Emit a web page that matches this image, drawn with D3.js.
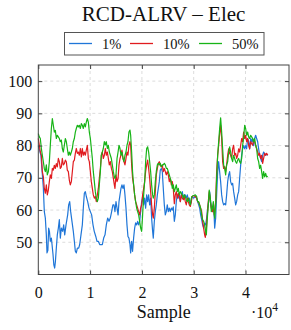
<!DOCTYPE html>
<html>
<head>
<meta charset="utf-8">
<script src="https://cdn.jsdelivr.net/npm/d3@7"></script>
<style>
body { margin: 0; background: #fff; }
text { font-family: "Liberation Serif", "DejaVu Serif", serif; fill: #111; }
</style>
</head>
<body>
<script>
// sample positions are in thousands of samples
var blueSample = [0, 0.5, 0.97, 1.16, 1.36, 1.55, 1.68, 1.85, 2.0, 2.15, 2.32, 2.52, 2.65, 2.84, 3.0, 3.16, 3.3, 3.48, 3.67, 3.87,
  4.06, 4.25, 4.45, 4.7, 4.9, 5.1, 5.35, 5.67, 5.86, 6.06, 6.25, 6.5, 6.76, 6.96, 7.15, 7.34, 7.54, 7.8, 7.99, 8.24,
  8.5, 8.69, 8.89, 9.08, 9.27, 9.53, 9.79, 10.05, 10.3, 10.56, 10.8, 11.1, 11.33, 11.59, 11.85, 12.1, 12.36, 12.62, 12.88, 13.13,
  13.39, 13.65, 13.9, 14.16, 14.4, 14.61, 14.8, 15.0, 15.2, 15.4, 15.58, 15.77, 15.96, 16.15, 16.35, 16.54, 16.73, 16.93, 17.12, 17.31,
  17.5, 17.7, 17.83, 18.02, 18.2, 18.4, 18.6, 18.79, 18.99, 19.18, 19.37, 19.57, 19.76, 19.95, 20.14, 20.34, 20.53, 20.72, 20.92, 21.11,
  21.3, 21.5, 21.69, 21.88, 22.07, 22.2, 22.4, 22.59, 22.78, 22.98, 23.17, 23.36, 23.55, 23.75, 23.94, 24.13, 24.33, 24.52, 24.71, 24.9,
  25.1, 25.29, 25.48, 25.68, 25.87, 26.06, 26.26, 26.45, 26.64, 26.84, 27.03, 27.22, 27.42, 27.61, 27.8, 28.0, 28.19, 28.38, 28.57, 28.77,
  28.96, 29.15, 29.35, 29.54, 29.67, 30.0, 30.31, 30.57, 30.76, 30.96, 31.15, 31.34, 31.54, 31.73, 31.92, 32.12, 32.31, 32.5, 32.69, 32.89,
  33.08, 33.27, 33.47, 33.66, 33.85, 34.05, 34.24, 34.43, 34.63, 34.82, 35.01, 35.2, 35.4, 35.59, 35.78, 35.98, 36.17, 36.36, 36.56, 36.75,
  36.94, 37.13, 37.33, 37.52, 37.71, 37.91, 38.1, 38.29, 38.49, 38.68, 38.87, 39.07, 39.26, 39.45, 39.64, 39.84, 40.03, 40.22, 40.42, 40.61,
  40.8, 41.0, 41.19, 41.38, 41.57, 41.77, 41.96, 42.15, 42.35, 42.54, 42.73, 42.93, 43.12, 43.31, 43.5, 43.7, 43.89, 44.08, 44.3];
var blueValue = [80, 77, 67, 59.5, 57.5, 52.3, 46.7, 47.5, 54.4, 53.4, 50.3, 51.3, 49.3, 46.2, 43, 42, 44, 48.2, 52.3, 54.4,
  57, 51.3, 54.4, 53.4, 55.4, 52.3, 55.4, 58.5, 61.6, 62.6, 59.5, 56.5, 53.4, 50.3, 47.2, 46.7, 48.2, 48.2, 49.3, 52.3,
  55.4, 60.6, 65.2, 65.7, 64.2, 62.6, 60.6, 59.5, 58.5, 55.4, 53.4, 51.8, 50.3, 50.3, 49.3, 49.3, 49.3, 51.3, 52.3, 55.4,
  57.5, 56.5, 57.5, 59.5, 61.6, 61.6, 59.5, 62.6, 60.6, 58.5, 62.6, 64.7, 66.7, 67.8, 66.7, 67.8, 64.7, 60.6, 55.4, 51.8,
  51.3, 49.3, 46.7, 50.3, 47.2, 51.3, 54.4, 56, 55.4, 56.5, 55.4, 56.5, 59.5, 62.6, 63.7, 61.6, 63.7, 60.6, 64.7, 62.6,
  64.7, 61.6, 63.7, 57.5, 53.4, 51.3, 56.5, 59.5, 61.6, 64.7, 66.7, 68.8, 72.4, 72.9, 71.9, 66.7, 61.6, 58.5, 59.5, 61.6,
  59.5, 60.6, 59.5, 60.6, 60, 61, 56.5, 58.5, 62.6, 64.7, 63.7, 64.7, 62.6, 64.7, 65.7, 63.7, 64.7, 64.7, 63.7, 64.7,
  63.2, 63.7, 61.6, 62.6, 64.2, 63.7, 64.2, 63.7, 62.6, 61.6, 60.6, 58.5, 57, 55.4, 54.4, 55.9, 55.4, 57.5, 60.6, 62.6,
  65.7, 62.6, 60.6, 59.5, 61.6, 54.4, 57.5, 64.7, 71.9, 75, 71.9, 68.8, 64.7, 62.6, 61.6, 62, 61.6, 64.7, 68.8, 70.9,
  71.9, 68.8, 67.8, 68.3, 65.7, 63.7, 61.6, 62.6, 64.7, 65.7, 69.8, 74, 77, 79, 80, 79, 80, 79, 82.2, 81.2,
  79, 82.2, 81.2, 82.2, 80, 82.2, 83.2, 82.2, 81.2, 79, 77, 76, 75, 77, 78, 77.5, 77, 77.2, 77];

var redSample = [0, 0.2, 0.39, 0.59, 0.78, 0.97, 1.16, 1.36, 1.55, 1.74, 1.94, 2.13, 2.32, 2.52, 2.71, 2.9, 3.1, 3.29, 3.48, 3.67,
  3.87, 4.06, 4.25, 4.45, 4.64, 4.83, 5.03, 5.22, 5.41, 5.6, 5.8, 5.99, 6.18, 6.38, 6.57, 6.76, 6.96, 7.15, 7.34, 7.54,
  7.73, 7.92, 8.12, 8.31, 8.5, 8.69, 8.89, 9.08, 9.27, 9.47, 9.66, 9.85, 10.05, 10.24, 10.43, 10.62, 10.82, 11.01, 11.2, 11.4,
  11.59, 11.78, 11.98, 12.17, 12.36, 12.55, 12.75, 12.94, 13.13, 13.33, 13.52, 13.71, 13.91, 14.1, 14.29, 14.49, 14.68, 14.8, 15.0, 15.2,
  15.4, 15.58, 15.77, 15.96, 16.15, 16.35, 16.54, 16.73, 16.93, 17.12, 17.31, 17.5, 17.7, 17.83, 18.02, 18.2, 18.4, 18.6, 18.79, 18.99,
  19.18, 19.37, 19.57, 19.76, 19.95, 20.14, 20.34, 20.53, 20.72, 20.92, 21.11, 21.3, 21.5, 21.69, 21.88, 22.07, 22.2, 22.4, 22.59, 22.78,
  22.98, 23.17, 23.36, 23.55, 23.75, 23.94, 24.13, 24.33, 24.52, 24.71, 24.9, 25.1, 25.29, 25.48, 25.68, 25.87, 26.06, 26.26, 26.45, 26.64,
  26.84, 27.03, 27.22, 27.42, 27.61, 27.8, 28.0, 28.19, 28.38, 28.57, 28.77, 28.96, 29.15, 29.35, 29.54, 29.67, 30.0, 30.31, 30.57, 30.76,
  30.96, 31.15, 31.34, 31.54, 31.73, 31.92, 32.12, 32.24, 32.44, 32.63, 32.82, 33.0, 33.21, 33.4, 33.6, 33.79, 33.98, 34.24, 34.43, 34.63,
  34.82, 35.01, 35.2, 35.4, 35.59, 35.78, 35.98, 36.17, 36.36, 36.56, 36.75, 36.94, 37.13, 37.33, 37.52, 37.71, 37.91, 38.1, 38.29, 38.49,
  38.68, 38.87, 39.07, 39.26, 39.45, 39.64, 39.84, 40.03, 40.22, 40.42, 40.61, 40.8, 41.0, 41.19, 41.38, 41.57, 41.77, 41.96, 42.15, 42.35,
  42.54, 42.73, 42.93, 43.12, 43.31, 43.5, 43.7, 43.89, 44.08, 44.3];
var redValue = [82.2, 80.1, 78, 77, 71.9, 70.4, 66.7, 65.2, 67.8, 64.7, 66.2, 68.8, 70.9, 69.8, 72.9, 72.4, 73.9, 72.9, 74.4, 73.4,
  76, 75, 72.9, 73.4, 76, 74, 74.4, 75.5, 75, 72.4, 71.9, 69.3, 67.8, 68.8, 71.9, 75, 75.5, 77.6, 79.1, 77.6,
  78, 77, 79.1, 76.5, 79.1, 77, 78, 77, 78.6, 80.1, 76, 75, 71.9, 68.8, 66.7, 64.7, 63.7, 64.2, 62.6, 64.7,
  66.7, 69.8, 72.9, 77, 78, 76, 77, 79.1, 77, 78, 76, 74, 75, 73, 71.9, 69.8, 67.8, 66.7, 70.9, 68.8,
  69.8, 74, 76, 77, 78.6, 76, 75, 74, 76, 78, 77, 80.1, 81.2, 80.1, 74, 69.8, 67.8, 64.7, 62.6, 61.6,
  60.6, 59.5, 58.5, 60.6, 61.6, 64.7, 66.7, 68.8, 71.9, 74, 75.5, 72.9, 69.8, 65.7, 61.6, 58.5, 57.5, 60.6, 65.7, 70.9,
  72.9, 74.5, 75, 74, 73.4, 74, 71.9, 72.9, 71.9, 70.9, 71.9, 70.9, 68.8, 69.8, 67.8, 68.8, 66.7, 62, 64.7, 65.7,
  63.7, 65.2, 64.2, 62.6, 64.7, 63.7, 63.2, 64.2, 62.6, 61.6, 63.7, 62.6, 61.6, 61.1, 62.6, 64.2, 64.5, 64.2, 63.7, 62.6,
  62.4, 61.6, 60.6, 59.5, 56.5, 54.4, 52.3, 51.5, 54.4, 58.5, 62.6, 65.7, 62.6, 60.6, 59.5, 60.6, 58.5, 62.6, 71.9, 77,
  80.1, 83.7, 86.3, 82.2, 75, 72.9, 73.4, 71.9, 74, 77, 79, 77.6, 77, 76, 79, 80.1, 77, 77.6, 76, 77,
  79, 78, 80.1, 82.2, 81.2, 84.2, 82.2, 83.2, 81.2, 82.2, 80.1, 79, 81.2, 80.6, 80.1, 81.7, 81.2, 80.1, 79, 78,
  77, 77.6, 76, 77, 74.5, 76, 77.6, 77, 77.6, 77];

var greenSample = [0, 0.2, 0.39, 0.59, 0.78, 0.97, 1.16, 1.36, 1.55, 1.74, 1.94, 2.13, 2.32, 2.52, 2.71, 2.9, 3.1, 3.29, 3.48, 3.67,
  3.87, 4.06, 4.25, 4.45, 4.64, 4.83, 5.03, 5.22, 5.41, 5.6, 5.8, 5.99, 6.18, 6.38, 6.57, 6.76, 6.96, 7.15, 7.34, 7.54,
  7.73, 7.92, 8.12, 8.31, 8.5, 8.69, 8.89, 9.08, 9.27, 9.47, 9.66, 9.85, 10.05, 10.24, 10.43, 10.62, 10.82, 11.01, 11.2, 11.4,
  11.59, 11.78, 11.98, 12.17, 12.36, 12.55, 12.75, 12.94, 13.13, 13.33, 13.52, 13.71, 13.91, 14.1, 14.29, 14.49, 14.68, 14.8, 15.0, 15.2,
  15.4, 15.58, 15.77, 15.96, 16.15, 16.35, 16.54, 16.73, 16.93, 17.12, 17.31, 17.5, 17.7, 17.83, 18.02, 18.2, 18.4, 18.6, 18.79, 18.99,
  19.18, 19.37, 19.57, 19.76, 19.95, 20.14, 20.34, 20.53, 20.72, 20.92, 21.11, 21.3, 21.5, 21.69, 21.88, 22.07, 22.2, 22.4, 22.59, 22.78,
  22.98, 23.17, 23.36, 23.55, 23.75, 23.94, 24.13, 24.33, 24.52, 24.71, 24.9, 25.1, 25.29, 25.48, 25.68, 25.87, 26.06, 26.26, 26.45, 26.64,
  26.84, 27.03, 27.22, 27.42, 27.61, 27.8, 28.0, 28.19, 28.38, 28.57, 28.77, 28.96, 29.15, 29.35, 29.54, 29.67, 30.0, 30.31, 30.57, 30.76,
  30.96, 31.15, 31.34, 31.54, 31.73, 31.92, 32.12, 32.31, 32.44, 32.63, 32.82, 33.0, 33.21, 33.4, 33.6, 33.79, 33.92, 34.05, 34.24, 34.43,
  34.63, 34.82, 35.01, 35.2, 35.4, 35.59, 35.78, 35.98, 36.17, 36.36, 36.56, 36.75, 36.94, 37.13, 37.33, 37.52, 37.71, 37.91, 38.1, 38.29,
  38.49, 38.68, 38.87, 39.07, 39.26, 39.45, 39.64, 39.84, 40.03, 40.22, 40.42, 40.61, 40.8, 41.0, 41.19, 41.38, 41.57, 41.77, 41.96, 42.15,
  42.35, 42.54, 42.73, 42.93, 43.12, 43.31, 43.5, 43.7, 43.89, 44.08, 44.3];
var greenValue = [83.7, 82.7, 82.2, 79.1, 77, 75, 72.9, 71.9, 74, 70.9, 71.9, 75, 80.1, 85.3, 88.4, 86.3, 84.2, 84.7, 82.2, 83.2,
  82.7, 82.2, 81.2, 81.7, 79.1, 78, 80.1, 82.2, 81.2, 79.1, 77, 78, 77, 78, 79.1, 81.2, 82.2, 84.2, 85.3, 86.3,
  85.8, 86.3, 85.3, 86.8, 86.3, 85.3, 86.8, 85.8, 87.3, 88.4, 87.3, 84.2, 82.2, 79.1, 76, 71.9, 68.8, 65.7, 63.7, 62.6,
  63.7, 67.8, 71.9, 77, 78, 79.1, 81.2, 80.2, 81.2, 79.1, 80.1, 78, 77, 76, 74, 71.9, 70.3, 69.8, 70.9, 76,
  78, 80.1, 79.1, 77, 78, 76, 75, 77, 78, 80.1, 81.2, 84.2, 84.8, 83.2, 78, 71.9, 67.8, 64.7, 62.6, 60.6,
  59.5, 58.5, 56.5, 54.4, 53.4, 58.5, 64.7, 68.8, 75, 79.1, 79.6, 78, 75, 71.9, 67.8, 64.7, 63.7, 64.7, 68.8, 71.9,
  74, 74.5, 74, 74.5, 73.4, 74, 74, 74.5, 74, 72.9, 72.9, 71.9, 70.9, 69.8, 68.8, 66.7, 67.8, 65.7, 66.7, 67.8,
  65.7, 66.7, 64.7, 65.7, 65.2, 64.7, 63.7, 64.7, 64.2, 63.2, 62.6, 63.7, 62.6, 61.6, 63.7, 64.2, 64.5, 64.7, 64.2, 62.6,
  62.6, 61.6, 60.6, 58.5, 57, 56.5, 55.4, 53.4, 52.3, 57.5, 61.6, 66.2, 63.7, 59.5, 60.6, 62.6, 59.5, 57.5, 61.6, 69.8,
  77, 81.2, 85.3, 88.6, 84.2, 79, 74, 72.9, 70.9, 74, 75, 78, 79.6, 78, 76, 75, 77, 76, 75, 74.5,
  75.5, 76, 75, 74.5, 76, 80.1, 82.2, 86.3, 85.3, 83.2, 84.2, 82.7, 82.2, 83.2, 82.7, 82.2, 81.2, 82.2, 80.1, 79.1,
  76, 75, 72.9, 73.9, 71.9, 69.8, 71.9, 70.3, 71.4, 70.3, 70.5];

var seriesNames = ["1%", "10%", "50%"];
var seriesColors = ["#1f76d8", "#e01b1f", "#17b417"];
var xTicks = [0, 10, 20, 30, 40];
var yTicks = [50, 60, 70, 80, 90, 100];

var width = 291, height = 330;
var plotL = 38.3, plotR = 289, plotT = 65, plotB = 274.5;

var svg = d3.select("body").append("svg")
  .attr("width", width).attr("height", height);

var x = d3.scaleLinear().domain([0, 48.4]).range([plotL, plotR]);
var y = d3.scaleLinear().domain([40, 105]).range([plotB, plotT]);

// grid
svg.append("g").selectAll("line").data(xTicks.slice(1)).join("line")
  .attr("x1", d => x(d)).attr("x2", d => x(d))
  .attr("y1", plotT).attr("y2", plotB)
  .attr("stroke", "#dcdcdc").attr("stroke-dasharray", "3,3");
svg.append("g").selectAll("line").data(yTicks).join("line")
  .attr("x1", plotL).attr("x2", plotR)
  .attr("y1", d => y(d)).attr("y2", d => y(d))
  .attr("stroke", "#dcdcdc").attr("stroke-dasharray", "3,3");

// lines (1% first, 50% on top)
var allSeries = [
  d3.zip(blueSample, blueValue),
  d3.zip(redSample, redValue),
  d3.zip(greenSample, greenValue)
];
var line = d3.line()
  .x(d => x(d[0]))
  .y(d => y(d[1]));

svg.append("g").selectAll("path").data(allSeries).join("path")
  .attr("d", d => line(d))
  .attr("fill", "none")
  .attr("stroke", (d, i) => seriesColors[i])
  .attr("stroke-width", 1.2)
  .attr("stroke-linejoin", "round");

// axes (ticks pointing inward)
function styleAxis(g) {
  g.select(".domain").remove();
  g.selectAll(".tick line").attr("stroke", "#444");
  g.selectAll("text").style("font-family", "Liberation Serif, serif")
    .style("font-size", "16px").attr("fill", "#111");
}

svg.append("g").attr("transform", "translate(0," + plotB + ")")
  .call(d3.axisBottom(x).tickValues(xTicks).tickFormat(d => d / 10)
    .tickSize(-4).tickPadding(12))
  .call(styleAxis);
svg.append("g").attr("transform", "translate(0," + plotT + ")")
  .call(d3.axisTop(x).tickValues(xTicks).tickFormat("").tickSize(-4))
  .call(styleAxis);
svg.append("g").attr("transform", "translate(" + plotL + ",0)")
  .call(d3.axisLeft(y).tickValues(yTicks).tickSize(-4).tickPadding(6))
  .call(styleAxis);
svg.append("g").attr("transform", "translate(" + plotR + ",0)")
  .call(d3.axisRight(y).tickValues(yTicks).tickFormat("").tickSize(-4))
  .call(styleAxis);

svg.append("rect")
  .attr("x", plotL).attr("y", plotT)
  .attr("width", plotR - plotL).attr("height", plotB - plotT)
  .attr("fill", "none").attr("stroke", "#444").attr("stroke-width", 1);

// title
svg.append("text")
  .attr("x", (plotL + plotR) / 2).attr("y", 21)
  .attr("text-anchor", "middle")
  .style("font-size", "21px")
  .text("RCD-ALRV \u2013 Elec");

// legend
var legend = svg.append("g");
legend.append("rect")
  .attr("x", 64.5).attr("y", 32.5).attr("width", 199.5).attr("height", 22.5)
  .attr("fill", "#fff").attr("stroke", "#555");
var legX = [69, 130, 199];
var items = legend.selectAll("g.item").data(seriesNames).join("g")
  .attr("class", "item")
  .attr("transform", (d, i) => "translate(" + legX[i] + ",0)");
items.append("line")
  .attr("x1", 0).attr("x2", 23).attr("y1", 43.5).attr("y2", 43.5)
  .attr("stroke", (d, i) => seriesColors[i]).attr("stroke-width", 1.3);
items.append("text")
  .attr("x", 33).attr("y", 49)
  .style("font-size", "14.5px")
  .text(d => d);

// axis label and scale factor
svg.append("text")
  .attr("x", (plotL + plotR) / 2).attr("y", 318)
  .attr("text-anchor", "middle")
  .style("font-size", "18px")
  .text("Sample");

var mult = svg.append("text").attr("x", 251).attr("y", 318).style("font-size", "16px");
mult.append("tspan").text("\u00b710");
mult.append("tspan").attr("dy", -7).style("font-size", "11.5px").text("4");
</script>
</body>
</html>
